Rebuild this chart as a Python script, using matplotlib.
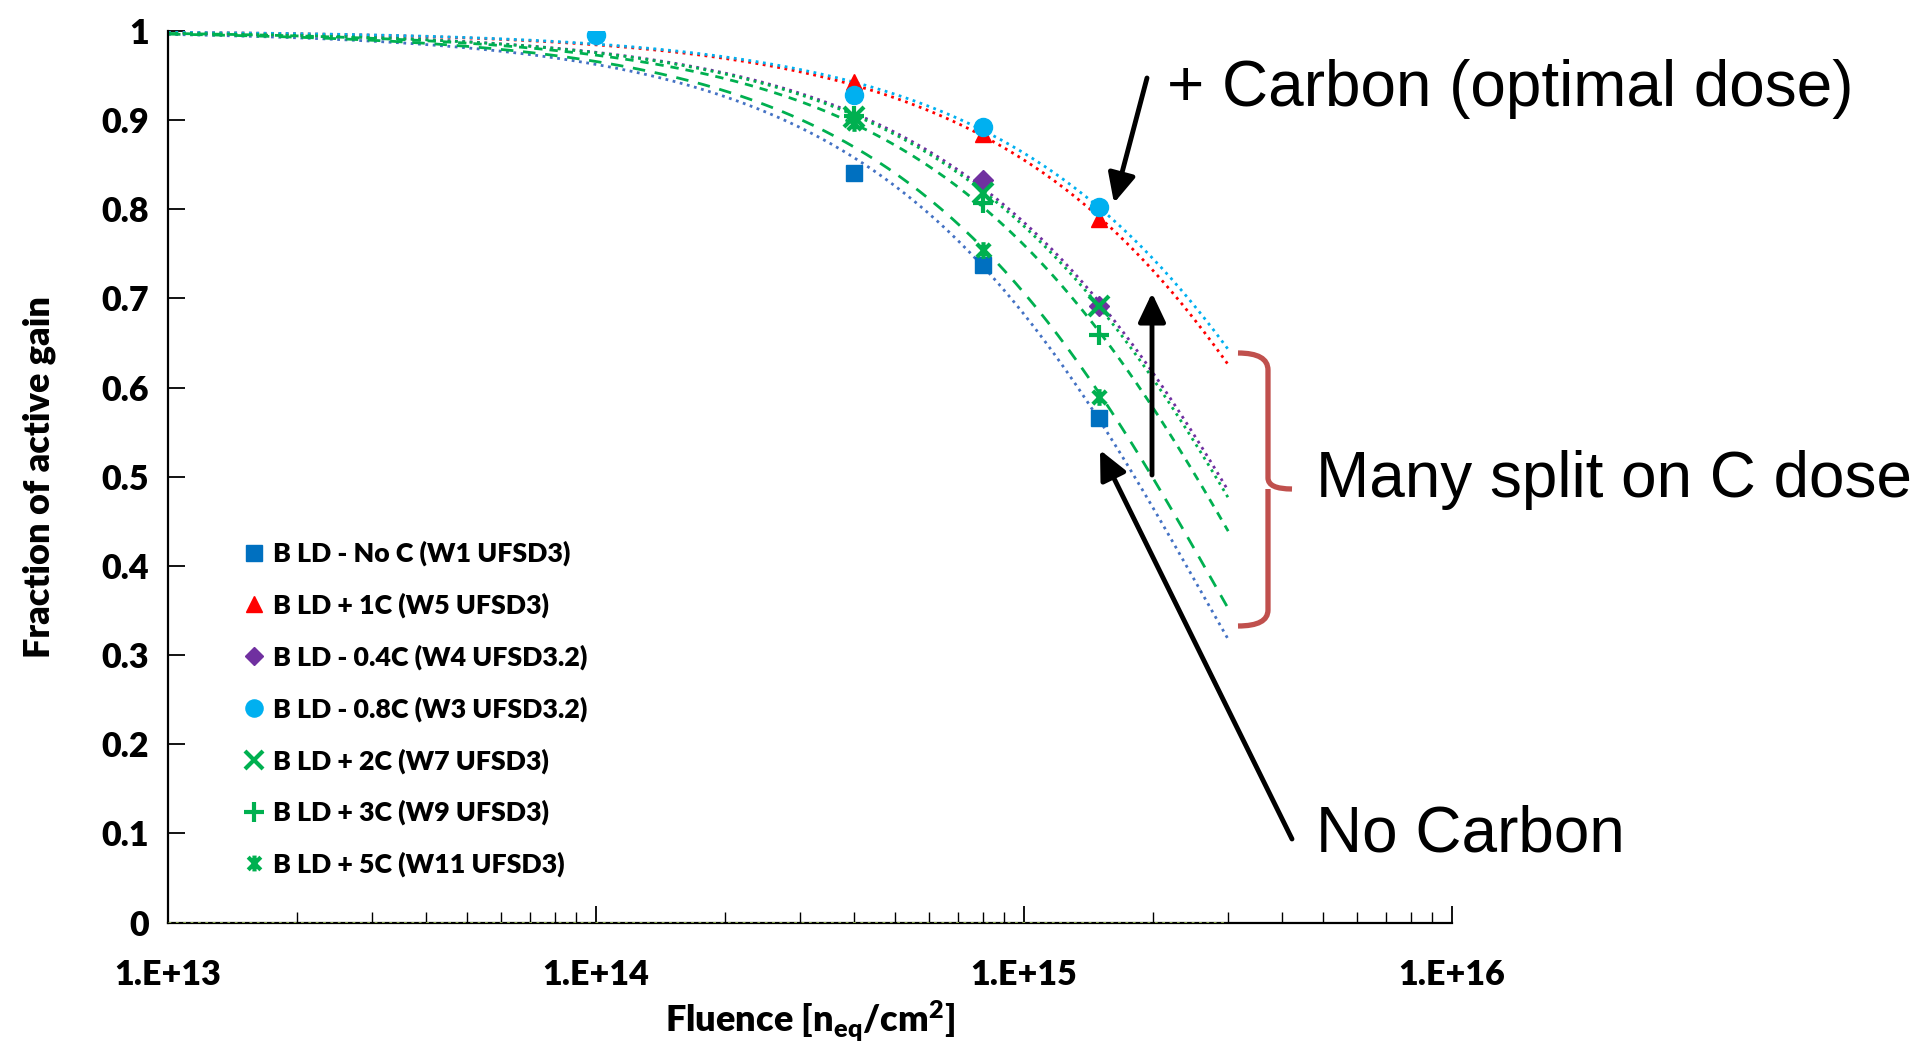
import numpy as np
import matplotlib
matplotlib.use("Agg")
import matplotlib.pyplot as plt
from matplotlib.path import Path
from matplotlib.patches import PathPatch
from matplotlib.transforms import IdentityTransform

# ---------------- data ----------------
labels = ["B LD - No C (W1 UFSD3)", "B LD + 1C (W5 UFSD3)", "B LD - 0.4C (W4 UFSD3.2)",
          "B LD - 0.8C (W3 UFSD3.2)", "B LD + 2C (W7 UFSD3)", "B LD + 3C (W9 UFSD3)",
          "B LD + 5C (W11 UFSD3)"]
fluence_noC = [4e14, 8e14, 1.5e15]
gain_noC = [0.841, 0.738, 0.566]
fluence_1C = [4e14, 8e14, 1.5e15]
gain_1C = [0.943, 0.885, 0.789]
fluence_04C = [8e14, 1.5e15]
gain_04C = [0.833, 0.692]
fluence_08C = [1e14, 4e14, 8e14, 1.5e15]
gain_08C = [0.996, 0.928, 0.892, 0.803]
fluence_2C = [4e14, 8e14, 1.5e15]
gain_2C = [0.903, 0.818, 0.692]
fluence_3C = [4e14, 8e14, 1.5e15]
gain_3C = [0.905, 0.807, 0.659]
fluence_5C = [4e14, 8e14, 1.5e15]
gain_5C = [0.897, 0.754, 0.590]
trend_range = [1e13, 3e15]
yticks = [0, 0.1, 0.2, 0.3, 0.4, 0.5, 0.6, 0.7, 0.8, 0.9, 1]
ytick_labels = ["0", "0.1", "0.2", "0.3", "0.4", "0.5", "0.6", "0.7", "0.8", "0.9", "1"]
xticks = [1e13, 1e14, 1e15, 1e16]
xtick_labels = ["1.E+13", "1.E+14", "1.E+15", "1.E+16"]

WEIGHT = 'heavy'
plt.rcParams['font.family'] = ['Lato', 'DejaVu Sans']
plt.rcParams['mathtext.fontset'] = 'custom'
plt.rcParams['mathtext.rm'] = 'Lato:heavy'
plt.rcParams['mathtext.it'] = 'Lato:heavy'
plt.rcParams['mathtext.bf'] = 'Lato:heavy'

W, H = 1916, 1041
fig = plt.figure(figsize=(W / 100, H / 100), dpi=100)
ax = fig.add_axes([168 / W, (H - 922.5) / H, (1452 - 168) / W, (922.5 - 31) / H])

# asterisk marker (x with vertical bar)
ast = Path([(-1, -1), (1, 1), (-1, 1), (1, -1), (0, -1.25), (0, 1.25)],
           [Path.MOVETO, Path.LINETO, Path.MOVETO, Path.LINETO, Path.MOVETO, Path.LINETO])

green = '#00B050'
series = [
    (fluence_noC, gain_noC, 's', '#0070C0', '#4472C4', ':', 12),
    (fluence_1C, gain_1C, '^', '#FF0000', '#FF0000', ':', 12),
    (fluence_04C, gain_04C, 'D', '#7030A0', '#7030A0', ':', 10),
    (fluence_08C, gain_08C, 'o', '#00B0F0', '#00B0F0', ':', 13),
    (fluence_2C, gain_2C, 'x', green, green, ':', 14),
    (fluence_3C, gain_3C, '+', green, green, (0, (3, 2.5)), 15),
    (fluence_5C, gain_5C, ast, green, green, (0, (4.5, 3.5)), 12),
]

xs = np.geomspace(trend_range[0], trend_range[1], 300)
handles = []
for (fx, gy, mk, mcol, lcol, ls, ms), lab in zip(series, labels):
    fx = np.asarray(fx)
    gy = np.asarray(gy)
    # exponential trendline with intercept fixed to 1 (least squares on ln y)
    c = -np.sum(fx * np.log(gy)) / np.sum(fx ** 2)
    ax.plot(xs, np.exp(-c * xs), color=lcol, ls=ls, lw=2.0, zorder=2)
    if mk in ('x', '+') or mk is ast:
        h, = ax.plot(fx, gy, ls='none', marker=mk, ms=ms, color=mcol, mew=3.0, zorder=4, label=lab)
    else:
        h, = ax.plot(fx, gy, ls='none', marker=mk, ms=ms, color=mcol, mec=mcol, zorder=4, label=lab)
    handles.append(h)

ax.hlines(0, trend_range[0], trend_range[1], color='#9BBB59', ls=':', lw=2.0, zorder=3)

ax.set_xscale('log')
ax.set_xlim(1e13, 1e16)
ax.set_ylim(0, 1)
ax.set_xticks(xticks)
ax.set_xticklabels(xtick_labels)
ax.xaxis.set_minor_locator(matplotlib.ticker.LogLocator(base=10, subs=np.arange(2, 10)))
ax.xaxis.set_minor_formatter(matplotlib.ticker.NullFormatter())
ax.set_yticks(yticks)
ax.set_yticklabels(ytick_labels)
for s in ['top', 'right']:
    ax.spines[s].set_visible(False)
for s in ['left', 'bottom']:
    ax.spines[s].set_linewidth(1.6)
ax.tick_params(axis='both', which='major', direction='in', length=12, width=1.3, labelsize=24.5)
ax.tick_params(axis='x', which='minor', direction='in', length=8, width=1.0)
ax.tick_params(axis='x', which='major', pad=26)
ax.tick_params(axis='y', which='major', pad=14)
for t in ax.get_xticklabels() + ax.get_yticklabels():
    t.set_fontweight(WEIGHT)

ax.set_ylabel("Fraction of active gain", fontsize=26, fontweight=WEIGHT, labelpad=32)
ax.set_xlabel(r"Fluence [n$_{eq}$/cm$^{2}$]", fontsize=26, fontweight=WEIGHT, labelpad=6)

leg = ax.legend(handles=handles, loc='upper left', bbox_to_anchor=(242 / W, (H - 541) / H),
                bbox_transform=fig.transFigure, frameon=False, fontsize=19.3, borderpad=0,
                borderaxespad=0, handlelength=0.9, handletextpad=0.25, labelspacing=0.98,
                markerscale=0.95)
for t in leg.get_texts():
    t.set_fontweight(WEIGHT)

# annotations
afont = dict(family=['Liberation Sans', 'DejaVu Sans'], fontsize=46, color='black')
fig.text(1167 / W, 1 - 89 / H, "+ Carbon (optimal dose)", va='center', ha='left', **afont)
fig.text(1316 / W, 1 - 480 / H, "Many split on C dose", va='center', ha='left', **afont)
fig.text(1316 / W, 1 - 835 / H, "No Carbon", va='center', ha='left', **afont)

arr = dict(arrowstyle='-|>,head_length=0.8,head_width=0.38', lw=3.5, color='black',
           mutation_scale=22, shrinkA=0, shrinkB=0)
for (x0, y0), (x1, y1) in [((1147, 78), (1114, 203)), ((1152, 475), (1152, 293)),
                           ((1292, 839), (1100, 450))]:
    ax.annotate("", xy=(x1, H - y1), xytext=(x0, H - y0), xycoords='figure pixels',
                textcoords='figure pixels', arrowprops=arr, annotation_clip=False)

# red brace
bx = [(1238, 353), (1268, 353), (1268, 370), (1268, 478), (1268, 489), (1292, 489),
      (1268, 489), (1268, 500), (1268, 610), (1268, 626), (1238, 626)]
codes = [Path.MOVETO, Path.CURVE3, Path.CURVE3, Path.LINETO, Path.CURVE3, Path.CURVE3,
         Path.MOVETO, Path.CURVE3, Path.LINETO, Path.CURVE3, Path.CURVE3]
brace = Path([(x, H - y) for x, y in bx], codes)
fig.add_artist(PathPatch(brace, fill=False, edgecolor='#C0504D', lw=3.8,
                         transform=IdentityTransform(), capstyle='butt', joinstyle='round'))

fig.savefig("out.png", dpi=100)
